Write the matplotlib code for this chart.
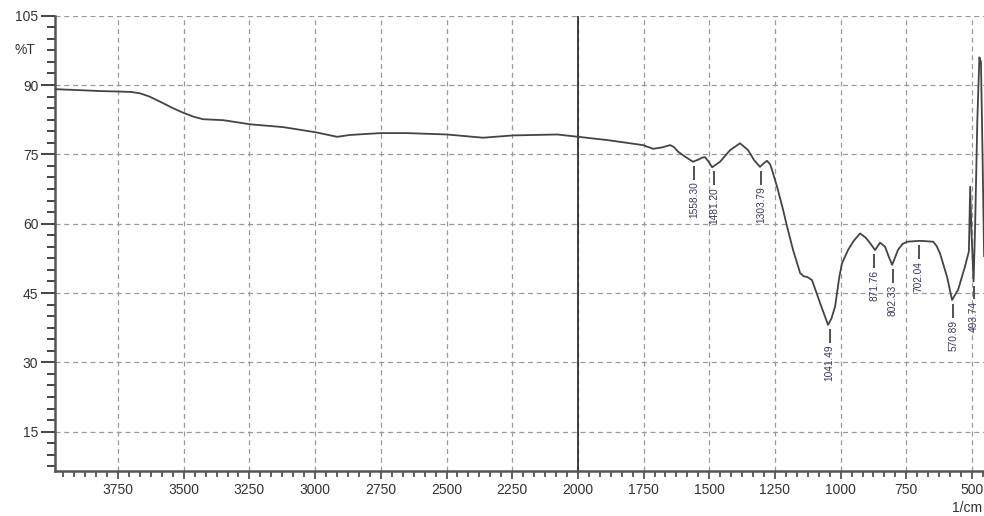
import numpy as np
import matplotlib
matplotlib.use('Agg')
import matplotlib.pyplot as plt
from matplotlib.ticker import MultipleLocator, AutoMinorLocator

plt.rcParams['font.family'] = ['Liberation Sans', 'DejaVu Sans']

# spectrum (1/cm, %T)
wavenumber = [3989, 3900, 3820, 3753, 3700, 3666, 3630, 3590, 3545, 3502,
              3460, 3426, 3350, 3247, 3122, 3000, 2916, 2867, 2752, 2650,
              2498, 2361, 2247, 2079, 1999, 1889, 1752, 1714, 1680, 1649,
              1635, 1619, 1592, 1562, 1540, 1527, 1516, 1500, 1489, 1459,
              1421, 1383, 1352, 1330, 1307, 1290, 1280, 1268, 1261, 1242,
              1219, 1204, 1181, 1154, 1140, 1128, 1109, 1078, 1048, 1035,
              1021, 1005, 995, 972, 950, 926, 905, 888, 869, 850,
              831, 815, 804, 782, 765, 747, 698, 648, 635, 622,
              595, 576, 553, 527, 512, 507, 502, 494, 488, 480,
              472, 466, 460, 454]
transmittance = [89.1, 88.9, 88.7, 88.6, 88.5, 88.2, 87.5, 86.4, 85.1, 84.0,
                 83.1, 82.6, 82.4, 81.5, 80.9, 79.8, 78.8, 79.2, 79.6, 79.6,
                 79.3, 78.6, 79.1, 79.3, 78.8, 78.1, 77.0, 76.2, 76.5, 77.0,
                 76.6, 75.6, 74.5, 73.4, 73.9, 74.3, 74.4, 73.2, 72.2, 73.4,
                 75.9, 77.4, 75.9, 73.8, 72.3, 73.2, 73.6, 72.8, 71.6, 68.0,
                 63.0, 59.4, 54.3, 49.3, 48.6, 48.5, 47.8, 42.8, 38.1, 39.5,
                 42.1, 48.5, 51.4, 54.3, 56.3, 57.9, 57.0, 55.8, 54.3, 55.9,
                 55.0, 52.6, 51.1, 54.3, 55.6, 56.1, 56.3, 56.1, 55.2, 53.6,
                 48.5, 43.5, 45.7, 50.7, 54.0, 68.0, 58.0, 47.5, 60.0, 82.0,
                 96.0, 95.0, 75.0, 53.0]

# peak picks
peak_pos = [1558.30, 1481.20, 1303.79, 1041.49, 871.76, 802.33, 702.04, 570.89, 493.74]
peak_t = [73.4, 72.2, 72.3, 38.1, 54.3, 51.1, 56.3, 43.5, 47.5]
peak_labels = ['1558.30', '1481.20', '1303.79', '1041.49', '871.76',
               '802.33', '702.04', '570.89', '493.74']

y_ticks = [15, 30, 45, 60, 75, 90, 105]
x_ticks = [3750, 3500, 3250, 3000, 2750, 2500, 2250, 2000, 1750, 1500, 1250, 1000, 750, 500]

fig = plt.figure(figsize=(9.84, 5.16), dpi=100)
ax = fig.add_axes([55 / 984, 45.3 / 516, 943.3 / 984, 455 / 516])

ax.set_xlim(3990, 400)
ax.set_ylim(6.56, 105)

grid_kw = dict(color='#9a9a9a', lw=0.9, ls=(0, (4, 3)), zorder=1)
for v in x_ticks:
    ax.axvline(v, **grid_kw)
for v in y_ticks:
    ax.axhline(v, **grid_kw)
ax.axvline(2000, color='#222222', lw=1.2, zorder=2)

ax.plot(wavenumber, transmittance, color='#444444', lw=1.3, zorder=3)

for w, t, lab in zip(peak_pos, peak_t, peak_labels):
    ax.vlines(w, t - 3.9, t - 0.9, color='#222222', lw=1.1, zorder=3)
    ax.text(w, t - 4.3, lab, rotation=90, ha='center', va='top',
            fontsize=7.3, color='#3a3a5a', zorder=4)

ax.set_xticks(x_ticks)
ax.set_yticks(y_ticks)
ax.xaxis.set_minor_locator(AutoMinorLocator(6))
ax.yaxis.set_minor_locator(MultipleLocator(2.5))
ax.tick_params(axis='y', which='major', length=10, width=1.4, pad=2,
               labelsize=10, colors='#444444', labelcolor='#333333')
ax.tick_params(axis='y', which='minor', length=5.5, width=1.4, colors='#444444')
ax.tick_params(axis='x', which='major', length=6, width=1.2, pad=3,
               labelsize=10, colors='#444444', labelcolor='#333333')
ax.tick_params(axis='x', which='minor', length=4, width=1.2, colors='#444444')

for side in ['top', 'right']:
    ax.spines[side].set_visible(False)
for side in ['left', 'bottom']:
    ax.spines[side].set_color('#555555')
    ax.spines[side].set_linewidth(1.8)

fig.text(35 / 984, 1 - 50 / 516, '%T', ha='right', va='center',
         fontsize=10, color='#333333')
fig.text(982 / 984, 1 - 508 / 516, '1/cm', ha='right', va='center',
         fontsize=10, color='#333333')

fig.savefig('out.png', dpi=100)
